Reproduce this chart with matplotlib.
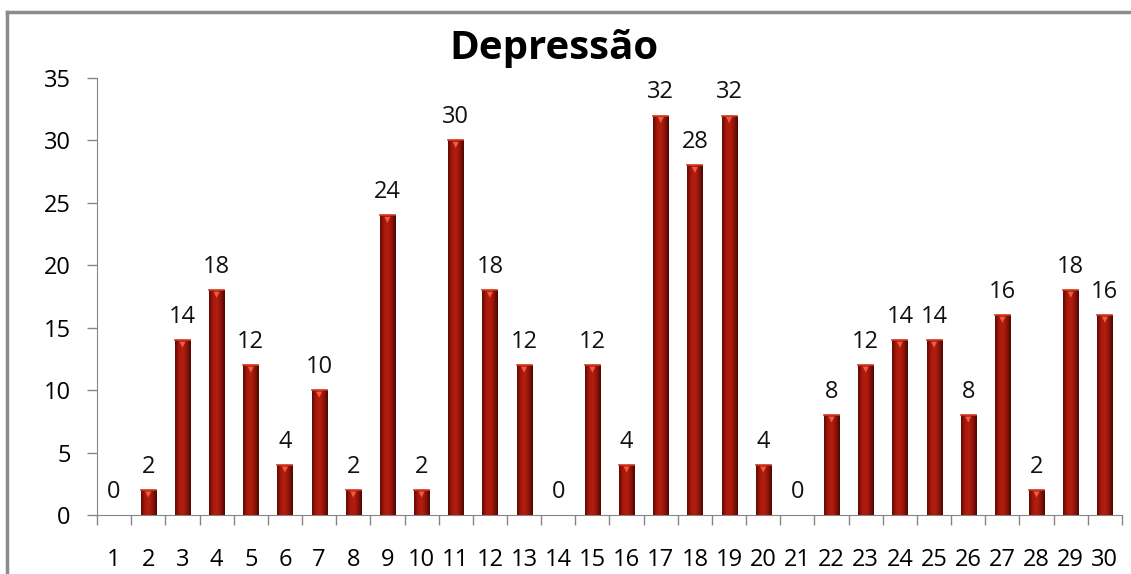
import numpy as np
import matplotlib.pyplot as plt
from matplotlib.colors import LinearSegmentedColormap
from matplotlib.lines import Line2D

# dados do gráfico
questoes = list(range(1, 31))
valores = [0, 2, 14, 18, 12, 4, 10, 2, 24, 2, 30, 18, 12, 0, 12,
           4, 32, 28, 32, 4, 0, 8, 12, 14, 14, 8, 16, 2, 18, 16]
titulo = 'Depressão'

plt.rcParams['font.family'] = ['Open Sans', 'DejaVu Sans']

fig = plt.figure(figsize=(11.31, 5.74), dpi=100)
ax = fig.add_axes([0.0858, 0.1028, 0.9062, 0.7612])

# moldura cinza (só topo e esquerda aparecem)
fig.add_artist(Line2D([7/1131, 7/1131], [0, 1 - 12/574], color='#8c8c8c', lw=2.5,
                      transform=fig.transFigure))
fig.add_artist(Line2D([7/1131, 1], [1 - 12/574, 1 - 12/574], color='#8c8c8c', lw=2.5,
                      transform=fig.transFigure))

largura = 0.44
cmap = LinearSegmentedColormap.from_list('barra', ['#5e0a04', '#a8180c', '#b51e10', '#8e1408', '#4a0703'])
grad = np.linspace(0, 1, 64).reshape(1, -1)

barras = ax.bar(questoes, valores, width=largura, color='#9c160a', zorder=2)
for b, v in zip(barras, valores):
    if v == 0:
        continue
    x0 = b.get_x()
    # gradiente horizontal dentro da barra
    im = ax.imshow(grad, extent=[x0, x0 + largura, 0, v], aspect='auto', cmap=cmap,
                   zorder=3, interpolation='bicubic')
    im.set_clip_path(b)
    # triângulo claro no topo
    ax.fill([x0 + largura*0.3, x0 + largura*0.7, x0 + largura*0.5],
            [v - 0.12, v - 0.12, v - 0.6], color='#f05a40', zorder=4, lw=0)
    ax.plot([x0, x0 + largura], [v, v], color='#d03820', lw=1.2, zorder=4)

for q, v in zip(questoes, valores):
    ax.annotate(str(v), (q, v), xytext=(0, 8), textcoords='offset points',
                ha='center', va='bottom', fontsize=17, color='#111111')

ax.set_xlim(0.5, 30.5)
ax.set_ylim(0, 35)
ax.set_yticks(range(0, 36, 5))
ax.set_xticks(questoes)
ax.set_xticks(np.arange(0.5, 31, 1), minor=True)
ax.tick_params(axis='x', which='major', length=0, pad=24, labelsize=17)
ax.tick_params(axis='x', which='minor', length=7, color='#868686', width=1)
ax.tick_params(axis='y', length=7, color='#868686', width=1, pad=12, labelsize=17)

for lado in ['top', 'right']:
    ax.spines[lado].set_visible(False)
for lado in ['left', 'bottom']:
    ax.spines[lado].set_color('#868686')

fig.text(554/1131, 1 - 48/574, titulo, fontsize=29, fontweight='bold',
         ha='center', va='center')

fig.savefig('out.png', dpi=100)
